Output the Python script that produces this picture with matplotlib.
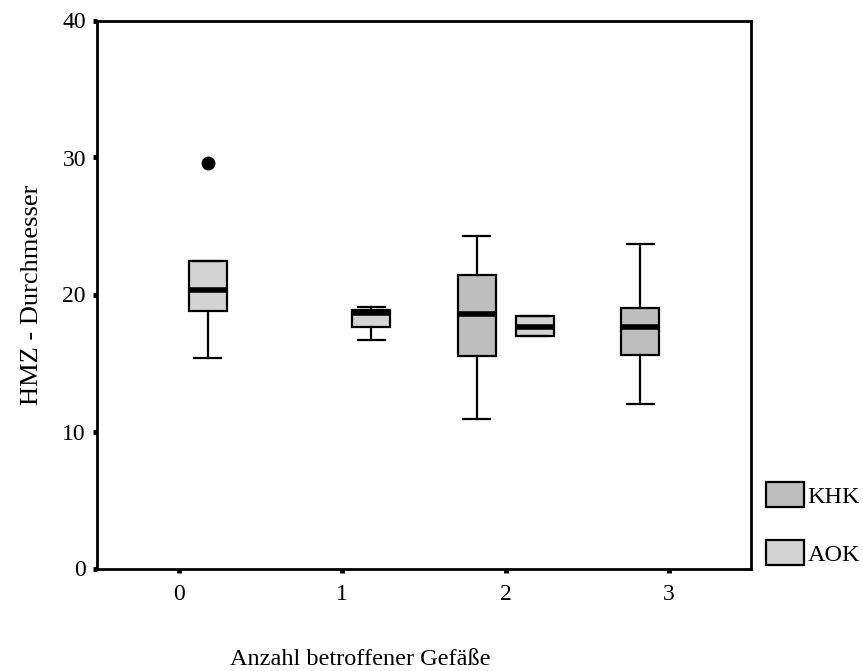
import matplotlib
matplotlib.use("Agg")
import matplotlib.pyplot as plt
from matplotlib.patches import Patch

# Data
categories = [0, 1, 2, 3]
groups = ["KHK", "AOK"]

# KHK boxes: category -> (whislo, q1, med, q3, whishi)
khk_cats = [2, 3]
khk_whislo = [10.9, 12.0]
khk_q1 = [15.5, 15.6]
khk_med = [18.55, 17.6]
khk_q3 = [21.4, 19.05]
khk_whishi = [24.3, 23.65]
khk_fliers = [[], []]

# AOK boxes
aok_cats = [0, 1, 2]
aok_whislo = [15.4, 16.7, 16.95]
aok_q1 = [18.8, 17.6, 16.95]
aok_med = [20.3, 18.65, 17.6]
aok_q3 = [22.45, 18.9, 18.4]
aok_whishi = [22.45, 19.1, 18.4]
aok_fliers = [[29.6], [], []]

colors = {"KHK": "#bebebe", "AOK": "#d3d3d3"}

plt.rcParams["font.family"] = ["Liberation Serif", "DejaVu Serif"]

fig = plt.figure(figsize=(8.63, 6.71), dpi=100)
ax = fig.add_axes([97 / 863, 1 - 568.5 / 671, (751 - 97) / 863, (568.5 - 20.5) / 671])

offset = 0.177
width = 0.232


def draw(cats, lo, q1, med, q3, hi, fl, shift, color):
    stats = []
    for i in range(len(cats)):
        stats.append(dict(whislo=lo[i], q1=q1[i], med=med[i], q3=q3[i],
                          whishi=hi[i], fliers=fl[i]))
    pos = [c + shift for c in cats]
    ax.bxp(stats, positions=pos, widths=width, patch_artist=True,
           showfliers=True, manage_ticks=False,
           boxprops=dict(facecolor=color, edgecolor="black", linewidth=1.6),
           medianprops=dict(color="black", linewidth=4, solid_capstyle="butt"),
           whiskerprops=dict(color="black", linewidth=1.6),
           capprops=dict(color="black", linewidth=1.6),
           capwidths=width * 0.72,
           flierprops=dict(marker="o", markerfacecolor="black",
                           markeredgecolor="black", markersize=9))


draw(khk_cats, khk_whislo, khk_q1, khk_med, khk_q3, khk_whishi, khk_fliers,
     -offset, colors["KHK"])
draw(aok_cats, aok_whislo, aok_q1, aok_med, aok_q3, aok_whishi, aok_fliers,
     offset, colors["AOK"])

ax.set_xlim(-0.5, 3.5)
ax.set_ylim(0, 40)
ax.set_xticks(categories)
ax.set_xticklabels([str(c) for c in categories])
ax.set_yticks([0, 10, 20, 30, 40])
for s in ax.spines.values():
    s.set_linewidth(2)
ax.tick_params(axis="both", direction="out", length=3, width=3.5,
               labelsize=17, pad=5)
ax.tick_params(axis="x", pad=8)

ax.set_ylabel("HMZ - Durchmesser", fontsize=19, labelpad=14)
fig.text(360 / 863, 1 / 671, "Anzahl betroffener Gefäße", fontsize=17.5,
         ha="center", va="bottom")

handles = [Patch(facecolor=colors[g], edgecolor="black", linewidth=1.6)
           for g in groups]
ax.legend(handles, groups, loc="upper left",
          bbox_to_anchor=(766 / 863, 1 - 482 / 671),
          bbox_transform=fig.transFigure, borderaxespad=0, borderpad=0,
          frameon=False, fontsize=17.5, handlelength=1.56, handleheight=1.2,
          handletextpad=0.15, labelspacing=1.35)

fig.savefig("out.png", dpi=100)
